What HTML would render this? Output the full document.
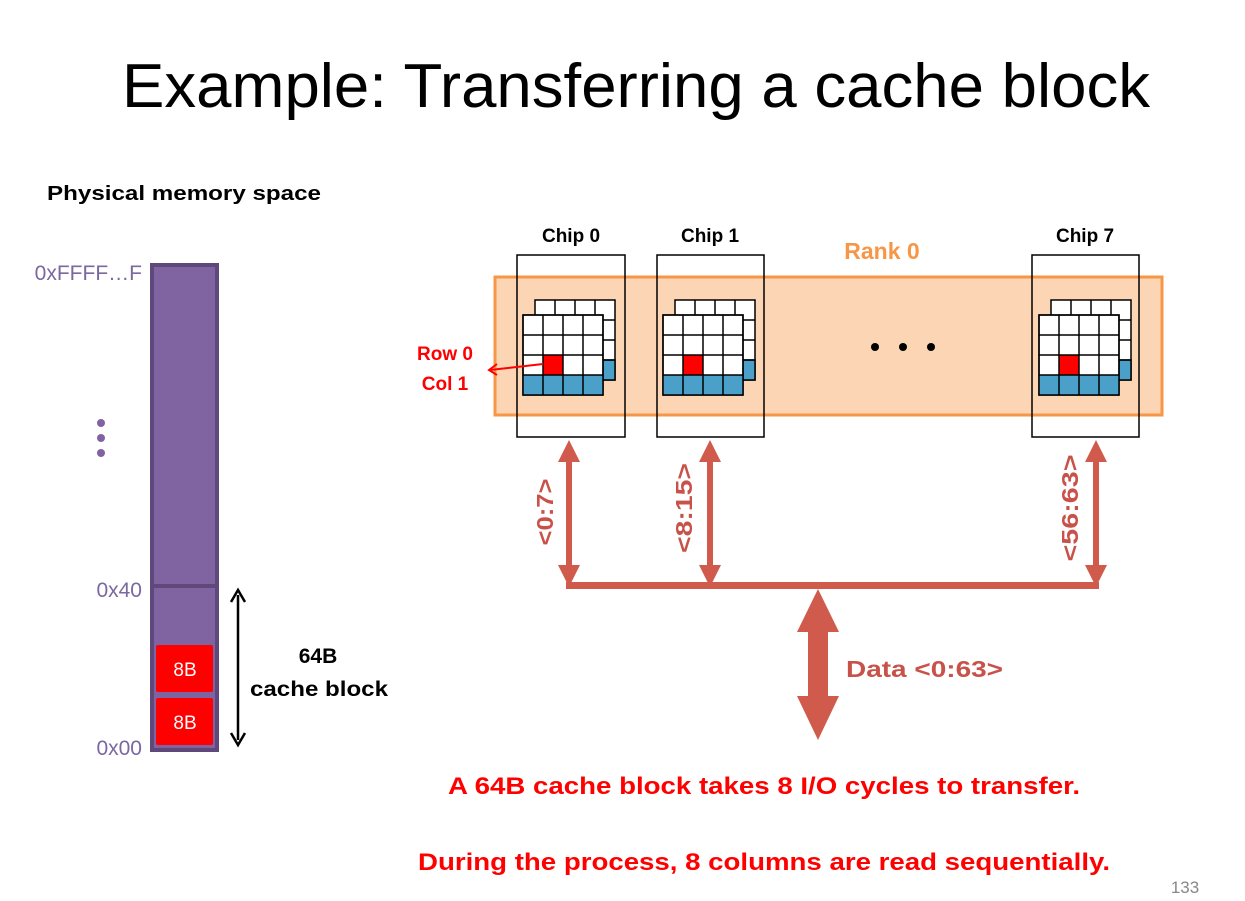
<!DOCTYPE html>
<html><head><style>
body{margin:0;background:#fff;}
svg{display:block;font-family:"Liberation Sans",sans-serif;}
.b{font-weight:bold;}
</style></head><body>
<svg width="1245" height="901" viewBox="0 0 1245 901">
<defs>
<g id="grid">
  <rect x="12" y="-15" width="80" height="80" fill="#fff" stroke="#000" stroke-width="1.5"/>
  <rect x="72" y="45" width="20" height="20" fill="#4aa0c8" stroke="#000" stroke-width="1.5"/>
  <path d="M32 -15V0M52 -15V0M72 -15V65M12 5H92M12 25H92M12 45H92" stroke="#000" stroke-width="1.5"/>
  <rect x="0" y="0" width="80" height="80" fill="#fff" stroke="#000" stroke-width="1.5"/>
  <rect x="0" y="60" width="80" height="20" fill="#4aa0c8"/>
  <rect x="20" y="40" width="20" height="20" fill="#f00"/>
  <path d="M20 0V80M40 0V80M60 0V80M0 20H80M0 40H80M0 60H80M0 0H80V80H0Z" fill="none" stroke="#000" stroke-width="1.5"/>
</g>
</defs>
<text x="122" y="107" font-size="62" fill="#000" textLength="1028" lengthAdjust="spacingAndGlyphs">Example: Transferring a cache block</text>
<text x="47" y="200" font-size="20" class="b" textLength="274" lengthAdjust="spacingAndGlyphs">Physical memory space</text>
<!-- memory column -->
<rect x="152" y="265" width="65" height="485" fill="#8064a2" stroke="#5f497a" stroke-width="4"/>
<line x1="152" y1="586" x2="217" y2="586" stroke="#5f497a" stroke-width="4"/>
<rect x="156" y="645" width="57" height="47" fill="#f00" rx="2"/>
<rect x="156" y="698" width="57" height="47" fill="#f00" rx="2"/>
<text x="185" y="676" font-size="19" fill="#fff" text-anchor="middle">8B</text>
<text x="185" y="729" font-size="19" fill="#fff" text-anchor="middle">8B</text>
<text x="142" y="280" font-size="21" fill="#7a68a0" text-anchor="end">0xFFFF…F</text>
<text x="142" y="597" font-size="21" fill="#7a68a0" text-anchor="end">0x40</text>
<text x="142" y="755" font-size="21" fill="#7a68a0" text-anchor="end">0x00</text>
<circle cx="101" cy="423" r="4" fill="#8064a2"/><circle cx="101" cy="438" r="4" fill="#8064a2"/><circle cx="101" cy="453" r="4" fill="#8064a2"/>
<!-- 64B arrow -->
<line x1="238" y1="595" x2="238" y2="740" stroke="#000" stroke-width="2.5"/>
<path d="M231 602L238 590L245 602M231 733L238 745L245 733" fill="none" stroke="#000" stroke-width="2.5"/>
<text x="318" y="663" font-size="21" class="b" text-anchor="middle">64B</text>
<text x="250" y="696" font-size="21" class="b" textLength="138" lengthAdjust="spacingAndGlyphs">cache block</text>
<!-- rank -->
<rect x="495" y="277" width="667" height="138" fill="#fcd5b4" stroke="#f79646" stroke-width="3"/>
<text x="882" y="259" font-size="23" class="b" fill="#f79646" text-anchor="middle">Rank 0</text>
<rect x="517" y="255" width="108" height="182" fill="none" stroke="#000" stroke-width="1.5"/>
<rect x="657" y="255" width="107" height="182" fill="none" stroke="#000" stroke-width="1.5"/>
<rect x="1032" y="255" width="107" height="182" fill="none" stroke="#000" stroke-width="1.5"/>
<text x="571" y="242" font-size="19" class="b" text-anchor="middle">Chip 0</text>
<text x="710" y="242" font-size="19" class="b" text-anchor="middle">Chip 1</text>
<text x="1085" y="242" font-size="19" class="b" text-anchor="middle">Chip 7</text>
<use href="#grid" x="523" y="315"/>
<use href="#grid" x="663" y="315"/>
<use href="#grid" x="1039" y="315"/>
<circle cx="875" cy="347" r="4" fill="#000"/><circle cx="903" cy="347" r="4" fill="#000"/><circle cx="931" cy="347" r="4" fill="#000"/>
<text x="445" y="360" font-size="19" class="b" fill="#f00" text-anchor="middle">Row 0</text>
<text x="445" y="390" font-size="19" class="b" fill="#f00" text-anchor="middle">Col 1</text>
<line x1="543" y1="364" x2="490" y2="370" stroke="#f00" stroke-width="2"/>
<path d="M497 364L489 370L497 375" fill="none" stroke="#f00" stroke-width="2"/>
<!-- bus -->
<g fill="#d05a4b" stroke="none">
<rect x="566" y="455" width="6" height="115"/><path d="M558 462L569 440L580 462ZM558 565L569 587L580 565Z"/>
<rect x="707" y="455" width="6" height="115"/><path d="M699 462L710 440L721 462ZM699 565L710 587L721 565Z"/>
<rect x="1093" y="455" width="6" height="115"/><path d="M1085 462L1096 440L1107 462ZM1085 565L1096 587L1107 565Z"/>
<rect x="566" y="582" width="533" height="7"/>
<rect x="808" y="628" width="20" height="70"/>
<path d="M797 632L818 589L839 632ZM797 696L818 740L839 696Z"/>
</g>
<g font-size="23" class="b" fill="#c8524a">
<text transform="translate(553,512) rotate(-90)" text-anchor="middle" textLength="67" lengthAdjust="spacingAndGlyphs">&lt;0:7&gt;</text>
<text transform="translate(692,508) rotate(-90)" text-anchor="middle" textLength="90" lengthAdjust="spacingAndGlyphs">&lt;8:15&gt;</text>
<text transform="translate(1078,508) rotate(-90)" text-anchor="middle" textLength="107" lengthAdjust="spacingAndGlyphs">&lt;56:63&gt;</text>
<text x="846" y="677" font-size="23" textLength="157" lengthAdjust="spacingAndGlyphs">Data &lt;0:63&gt;</text>
</g>
<text x="448" y="794" font-size="24" class="b" fill="#f00" textLength="632" lengthAdjust="spacingAndGlyphs">A 64B cache block takes 8 I/O cycles to transfer.</text>
<text x="418" y="870" font-size="24" class="b" fill="#f00" textLength="692" lengthAdjust="spacingAndGlyphs">During the process, 8 columns are read sequentially.</text>
<text x="1185" y="893" font-size="17" fill="#888" text-anchor="middle">133</text>
</svg>
</body></html>
